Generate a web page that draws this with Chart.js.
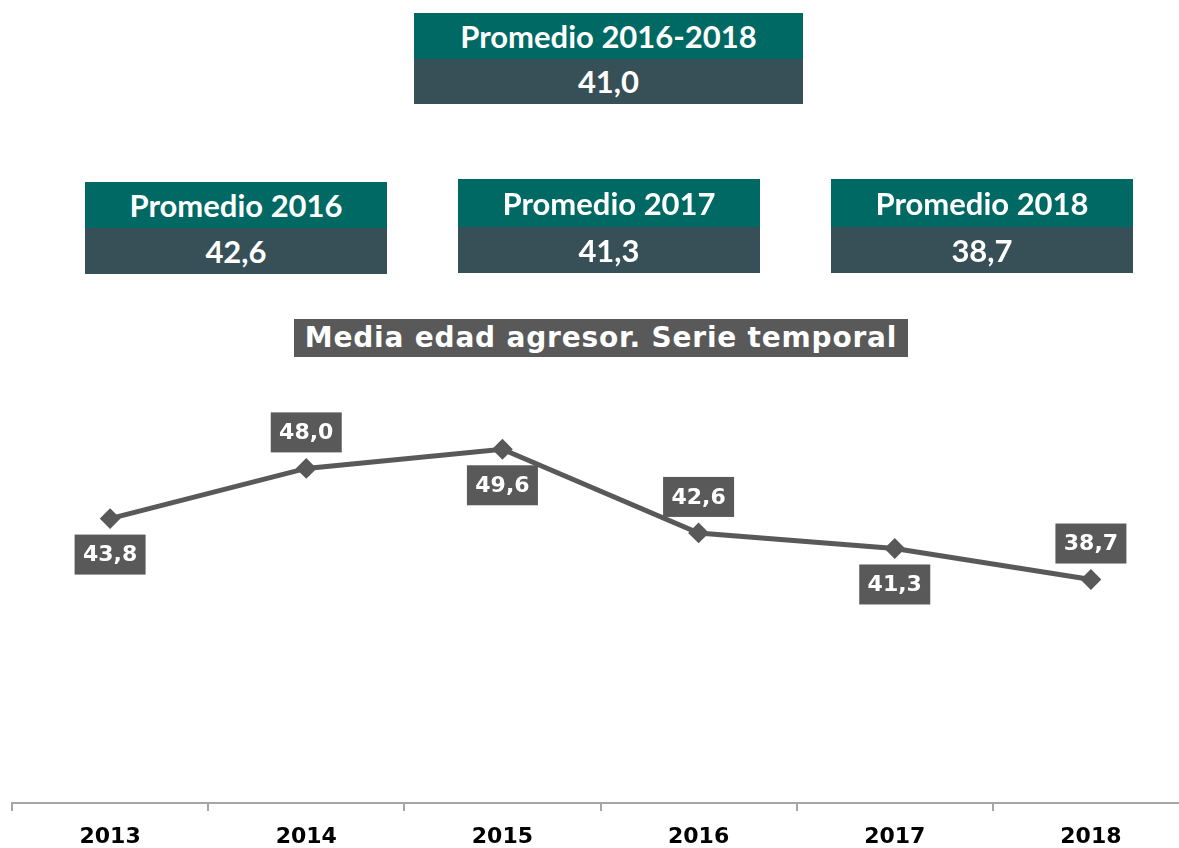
<!DOCTYPE html>
<html>
<head>
<meta charset="utf-8">
<script src="https://cdn.jsdelivr.net/npm/chart.js@4/dist/chart.umd.min.js"></script>
<style>
  html, body { margin:0; padding:0; width:1179px; height:848px; overflow:hidden; background:#fff; }
  #c { position:absolute; left:0; top:0; }
  .box { position:absolute; z-index:2; font-family:Lato, "Open Sans", sans-serif; font-weight:700; color:#fff; }
  .box .h, .box .v { display:flex; align-items:center; justify-content:center; line-height:1; }
  .box .h { background:#006964; }
  .box .v { background:#374F56; }
  #title { position:absolute; z-index:2; left:294px; top:319px; width:614px; height:38px; background:#595959; color:#fff;
    font-family:"DejaVu Sans", Verdana, sans-serif; font-weight:700; font-size:28px; letter-spacing:0.8px;
    display:flex; align-items:center; justify-content:center; line-height:1; white-space:nowrap; }
</style>
</head>
<body>
<canvas id="c" width="1200" height="848"></canvas>
<div id="title">Media edad agresor. Serie temporal</div>
<script>
// ---- data ----
const years = ['2013', '2014', '2015', '2016', '2017', '2018'];
const values = [43.8, 48.0, 49.6, 42.6, 41.3, 38.7];
const labelSide = ['below', 'above', 'below', 'above', 'below', 'above'];
const avgTitles = ['Promedio 2016-2018', 'Promedio 2016', 'Promedio 2017', 'Promedio 2018'];
const avgValues = ['41,0', '42,6', '41,3', '38,7'];

// ---- summary boxes (layout) ----
const boxLayout = [
  { left:414, top:13,  width:389, hh:46, vh:45 },
  { left:85,  top:182, width:302, hh:46, vh:46 },
  { left:458, top:179, width:302, hh:48, vh:46 },
  { left:831, top:179, width:302, hh:48, vh:46 }
];
avgTitles.forEach((t, i) => {
  const L = boxLayout[i];
  const d = document.createElement('div');
  d.className = 'box';
  d.style.left = L.left + 'px'; d.style.top = L.top + 'px'; d.style.width = L.width + 'px';
  const h = document.createElement('div'); h.className = 'h'; h.style.height = L.hh + 'px'; h.style.fontSize = '31px'; h.textContent = t;
  const v = document.createElement('div'); v.className = 'v'; v.style.height = L.vh + 'px'; v.style.fontSize = '31px'; v.textContent = avgValues[i];
  d.appendChild(h); d.appendChild(v);
  document.body.appendChild(d);
});

// ---- data label boxes ----
const boxLabels = {
  id: 'boxLabels',
  afterDatasetsDraw(chart) {
    const ctx = chart.ctx;
    const meta = chart.getDatasetMeta(0);
    ctx.save();
    ctx.font = 'bold 22px "DejaVu Sans"';
    ctx.textAlign = 'center';
    ctx.textBaseline = 'middle';
    meta.data.forEach((pt, i) => {
      const txt = values[i].toFixed(1).replace('.', ',');
      const cy = pt.y + (labelSide[i] === 'above' ? -36 : 36);
      ctx.fillStyle = '#595959';
      ctx.fillRect(pt.x - 35.5, cy - 20, 71, 40);
      ctx.fillStyle = '#ffffff';
      ctx.fillText(txt, pt.x, cy + 1);
    });
    ctx.restore();
  }
};

new Chart(document.getElementById('c'), {
  type: 'line',
  data: {
    labels: years,
    datasets: [{
      data: values,
      borderColor: '#595959',
      backgroundColor: '#595959',
      borderWidth: 5,
      pointStyle: 'rectRot',
      pointRadius: 9,
      pointBorderWidth: 2,
      pointBackgroundColor: '#595959',
      pointBorderColor: '#595959',
      tension: 0,
      clip: false
    }]
  },
  options: {
    responsive: false,
    animation: false,
    layout: { padding: { left: 12, right: 9, top: 325, bottom: 0 } },
    plugins: { legend: { display: false }, tooltip: { enabled: false }, title: { display: false } },
    scales: {
      x: {
        type: 'category',
        offset: true,
        afterFit: (scale) => { scale.height = 45; },
        grid: { display: true, drawOnChartArea: false, drawTicks: true, tickLength: 8, offset: true, color: '#A6A6A6', lineWidth: 2 },
        border: { display: true, color: '#A6A6A6', width: 2 },
        ticks: { color: '#000', font: { family: 'DejaVu Sans', weight: 'bold', size: 22 }, padding: 13, maxRotation: 0 }
      },
      y: { display: false, min: 20, max: 60 }
    }
  },
  plugins: [boxLabels]
});
</script>
</body>
</html>
